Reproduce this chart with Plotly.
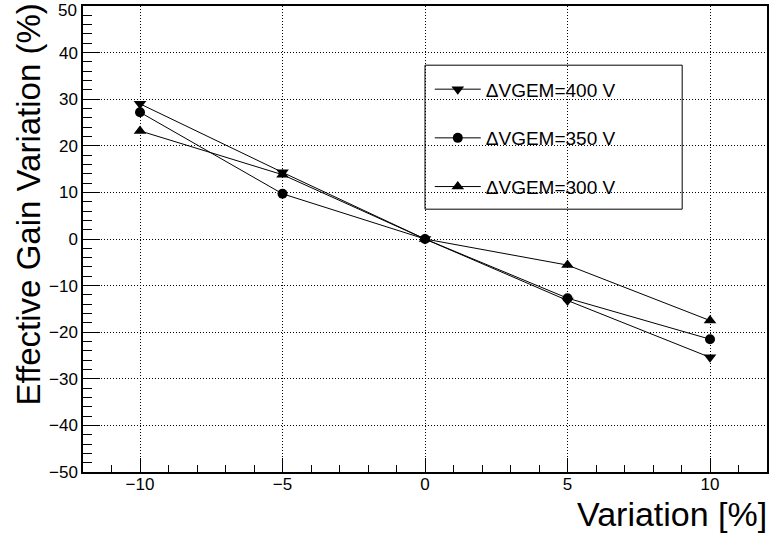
import plotly.graph_objects as go

x_vals = [-10, -5, 0, 5, 10]
gain_400 = [29.0, 14.3, 0.0, -13.2, -25.4]
gain_350 = [27.2, 9.7, 0.0, -12.7, -21.5]
gain_300 = [23.2, 13.8, 0.0, -5.6, -17.5]
series_names = ["ΔVGEM=400 V", "ΔVGEM=350 V", "ΔVGEM=300 V"]
x_ticks = [-10, -5, 0, 5, 10]
y_ticks = [-50, -40, -30, -20, -10, 0, 10, 20, 30, 40, 50]

FONT = "Liberation Sans, Arial, Helvetica, sans-serif"
TICK_SIZE = 17

def fmt(v):
    return ("\u2212" + str(-v)) if v < 0 else str(v)

fig = go.Figure()
symbols = ["triangle-down", "circle", "triangle-up"]
for i, (name, ys, sym) in enumerate(zip(series_names, [gain_400, gain_350, gain_300], symbols)):
    fig.add_trace(go.Scatter(
        x=x_vals, y=ys, mode="lines+markers", name=name,
        legendgroup=f"g{i}",
        line=dict(color="black", width=1),
        marker=dict(symbol=sym, size=11 if sym != "circle" else 10, color="black"),
    ))

axis_common = dict(
    showline=True, linecolor="black", linewidth=1.5, mirror=True,
    ticks="inside", tickcolor="black", tickwidth=1,
    showgrid=True, gridcolor="black", gridwidth=1, griddash="1px,2px",
    zeroline=False, ticklabeloverflow="allow", automargin=False,
    tickfont=dict(family=FONT, size=TICK_SIZE, color="black"),
)

fig.update_xaxes(
    range=[-12, 12], tickvals=x_ticks, ticktext=[fmt(v) for v in x_ticks],
    ticklen=14, ticklabelstandoff=-4,
    minor=dict(dtick=1, tick0=0, ticks="inside", ticklen=7, tickcolor="black", showgrid=False),
    **axis_common,
)
y_max = max(y_ticks)
fig.update_yaxes(
    range=[min(y_ticks), y_max], tickvals=y_ticks,
    ticktext=[fmt(v) if v != y_max else "" for v in y_ticks],
    ticklen=17,
    minor=dict(dtick=2, tick0=0, ticks="inside", ticklen=9, tickcolor="black", showgrid=False),
    **axis_common,
)
# top tick label, nudged down slightly so it stays inside the page (as in the original)
fig.add_annotation(text=fmt(y_max), xref="paper", yref="y", x=0, y=y_max, xshift=-4, yshift=-4,
                   xanchor="right", yanchor="middle", showarrow=False,
                   font=dict(family=FONT, size=TICK_SIZE, color="black"))

fig.add_shape(type="rect", xref="paper", yref="paper", x0=0.5, x1=0.876, y0=0.564, y1=0.873,
              line=dict(color="black", width=1), fillcolor="white", layer="between")

fig.add_annotation(text="Effective Gain Variation (%)", xref="paper", yref="paper",
                   x=0, y=1, xshift=-76, yshift=4, xanchor="left", yanchor="top", textangle=-90,
                   showarrow=False, font=dict(family=FONT, size=33, color="black"))
fig.add_annotation(text="Variation [%]", xref="paper", yref="paper",
                   x=1, y=0, xshift=2, yshift=-21, xanchor="right", yanchor="top",
                   showarrow=False, font=dict(family=FONT, size=34, color="black"))

fig.update_layout(
    width=778, height=534,
    margin=dict(l=83, r=11, t=6, b=62),
    paper_bgcolor="white", plot_bgcolor="white",
    showlegend=True,
    legend=dict(x=0.507, y=0.862, xanchor="left", yanchor="top",
                bgcolor="rgba(0,0,0,0)", borderwidth=0,
                font=dict(family=FONT, size=19, color="black"),
                tracegroupgap=21, itemwidth=46, traceorder="grouped"),
    font=dict(family=FONT, color="black"),
)

fig.write_html("out.html")
